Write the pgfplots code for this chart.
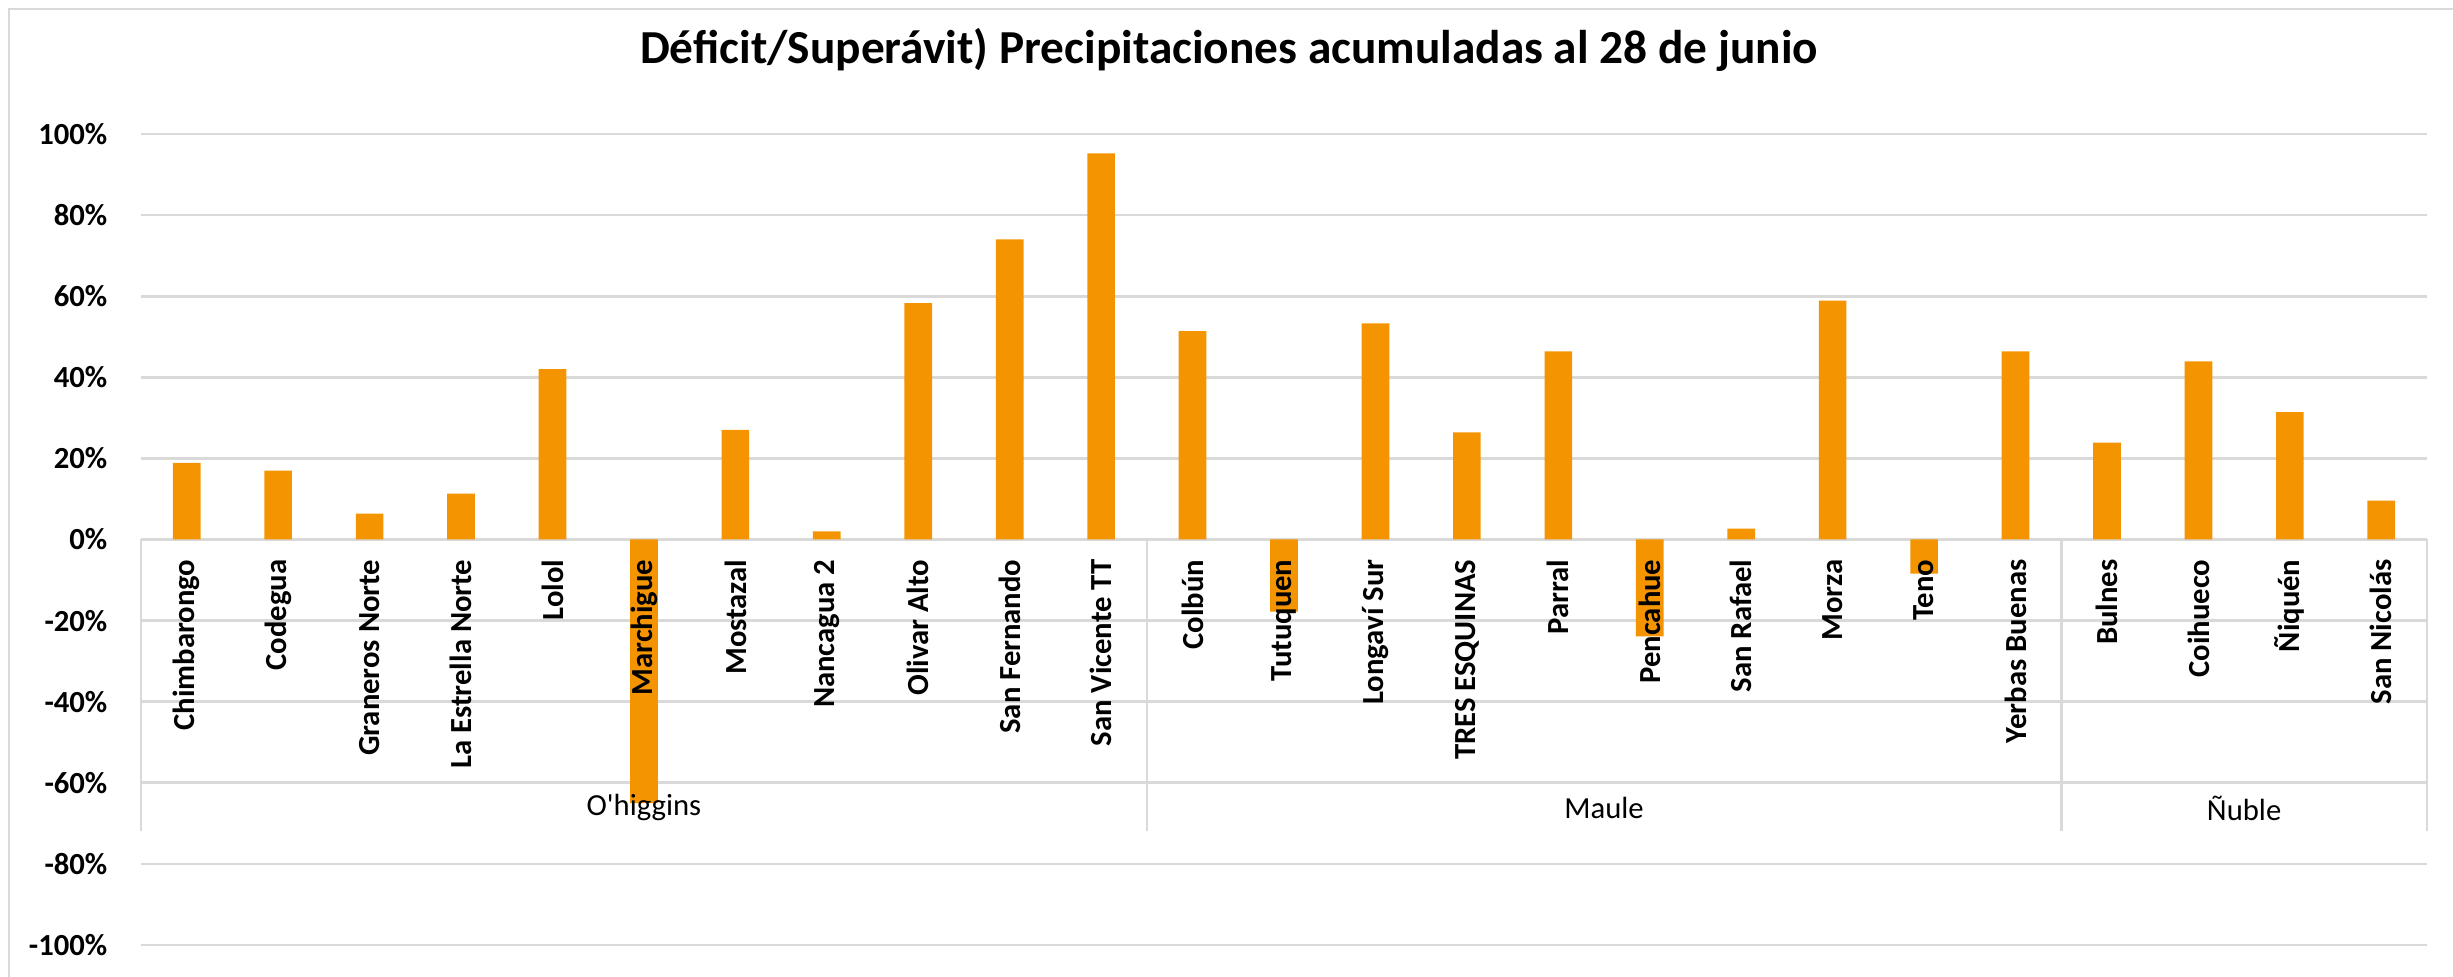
\documentclass[border=0pt]{standalone}
\usepackage{pgfplots}
\pgfplotsset{compat=1.18}
\usepackage{fontspec}
\setmainfont{Carlito}
\definecolor{barorange}{RGB}{244,148,0}
\definecolor{gridgray}{RGB}{217,217,217}
\pgfplotsset{
  common/.style={
    at={(42.3pt,9.6pt)}, anchor=south west,
    width=685.8pt, height=243.3pt, scale only axis,
    xmin=-0.5, xmax=24.5, ymin=-100, ymax=100,
    clip=false,
    axis line style={draw=none}, separate axis lines,
    tick style={draw=none}, major tick length=0pt,
  }
}
\begin{document}
\begin{tikzpicture}
\path[use as bounding box] (0,0) rectangle (735.9pt,293.1pt);
\draw[gridgray, line width=0.7pt] (2.7pt,0) -- (2.7pt,290.4pt) -- (735.9pt,290.4pt);
\begin{axis}[
  common,
  ymajorgrids, grid style={gridgray, line width=0.8pt},
  ytick={-100,-80,-60,-40,-20,0,20,40,60,80,100},
  yticklabels={-100\%,-80\%,-60\%,-40\%,-20\%,0\%,20\%,40\%,60\%,80\%,100\%},
  yticklabel style={font=\fontsize{9.2}{11}\selectfont\bfseries, inner sep=0pt, anchor=east, xshift=-9.9pt},
  xtick=\empty,
  title={Déficit/Superávit) Precipitaciones acumuladas al 28 de junio},
  title style={font=\fontsize{14.2}{17}\selectfont\bfseries, at={(0.476,1)}, anchor=center, yshift=19.2pt},
]
\addplot[ybar, bar width=8.3pt, bar shift=0pt, fill=barorange, draw=none] coordinates {
(0,18.9) (1,17.0) (2,6.4) (3,11.3) (4,42.0) (5,-65.0) (6,27.0) (7,2.0) (8,58.3) (9,74.0) (10,95.2)
(11,51.4) (12,-17.8) (13,53.3) (14,26.4) (15,46.4) (16,-23.9) (17,2.7) (18,58.9) (19,-8.4) (20,46.4)
(21,23.9) (22,43.9) (23,31.4) (24,9.6)};
\draw[gridgray, line width=0.8pt] (axis cs:-0.5,0) -- (axis cs:-0.5,-72);
\draw[gridgray, line width=0.8pt] (axis cs:10.5,0) -- (axis cs:10.5,-72);
\draw[gridgray, line width=0.8pt] (axis cs:20.5,0) -- (axis cs:20.5,-72);
\draw[gridgray, line width=0.8pt] (axis cs:24.5,0) -- (axis cs:24.5,-72);
\node[font=\fontsize{9.2}{11}\selectfont] at (axis cs:5,-66.2) {O\textquotesingle higgins};
\node[font=\fontsize{9.2}{11}\selectfont] at (axis cs:15.5,-66.2) {Maule};
\node[font=\fontsize{9.2}{11}\selectfont] at (axis cs:22.5,-66.2) {Ñuble};
\end{axis}
\begin{axis}[
  common,
  ytick=\empty,
  xtick={0,...,24},
  xticklabels={Chimbarongo,Codegua,Graneros Norte,La Estrella Norte,Lolol,Marchigue,Mostazal,Nancagua 2,Olivar Alto,San Fernando,San Vicente TT,Colbún,Tutuquen,Longaví Sur,TRES ESQUINAS,Parral,Pencahue,San Rafael,Morza,Teno,Yerbas Buenas,Bulnes,Coihueco,Ñiquén,San Nicolás},
  xticklabel style={font=\fontsize{9.2}{11}\selectfont\bfseries, inner sep=0pt, yshift=115.8pt, rotate=90, anchor=east},
]
\end{axis}
\end{tikzpicture}
\end{document}
